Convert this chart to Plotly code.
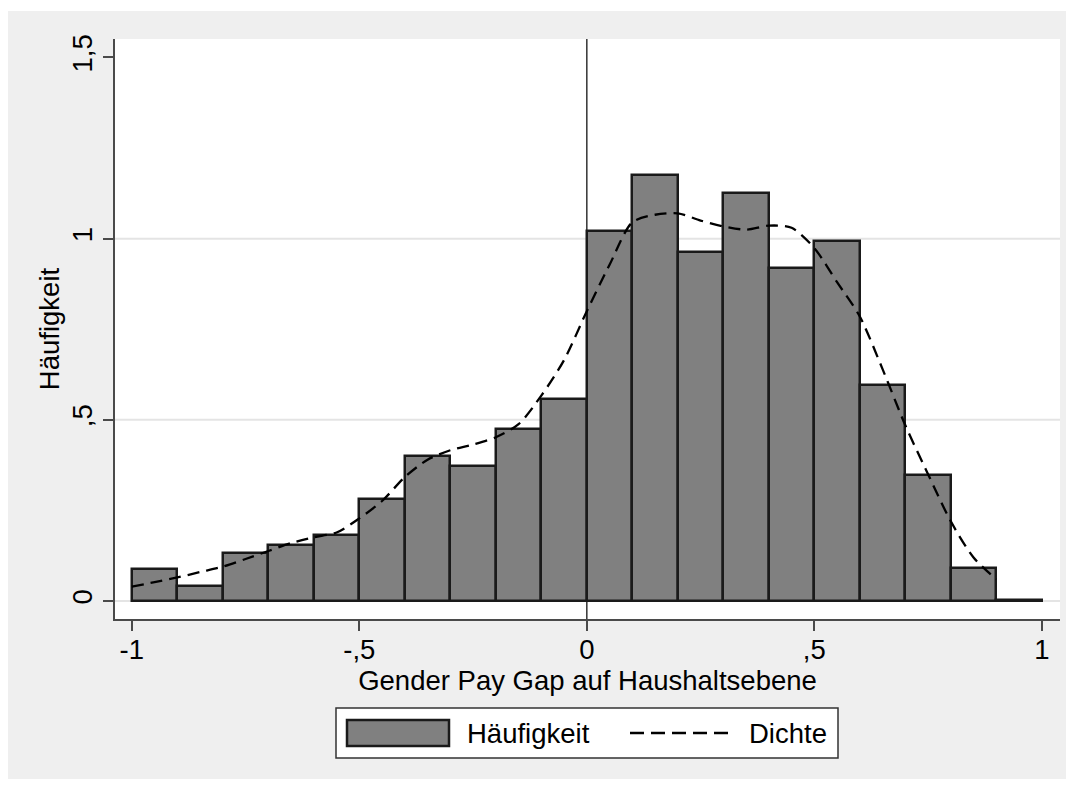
import plotly.graph_objects as go

# ---- data ----
bin_left = [-1.0, -0.9, -0.8, -0.7, -0.6, -0.5, -0.4, -0.3, -0.2, -0.1,
            0.0, 0.1, 0.2, 0.3, 0.4, 0.5, 0.6, 0.7, 0.8, 0.9]
bin_width = 0.1
freq = [0.088, 0.041, 0.133, 0.156, 0.183, 0.282, 0.400, 0.372, 0.476, 0.557,
        1.022, 1.176, 0.962, 1.125, 0.918, 0.994, 0.595, 0.347, 0.090, 0.003]

dens_x = [-1.0, -0.95, -0.9, -0.85, -0.8, -0.75, -0.7, -0.65, -0.6, -0.55,
          -0.5, -0.45, -0.4, -0.35, -0.3, -0.25, -0.2, -0.15, -0.1, -0.05,
          0.0, 0.05, 0.1, 0.15, 0.2, 0.25, 0.3, 0.35, 0.4, 0.45,
          0.5, 0.55, 0.6, 0.65, 0.7, 0.75, 0.8, 0.85, 0.9]
dens_y = [0.040, 0.052, 0.065, 0.080, 0.095, 0.116, 0.138, 0.160, 0.176, 0.189,
          0.228, 0.276, 0.342, 0.390, 0.416, 0.432, 0.452, 0.488, 0.567, 0.665,
          0.800, 0.928, 1.045, 1.066, 1.070, 1.050, 1.034, 1.025, 1.036, 1.030,
          0.974, 0.880, 0.785, 0.640, 0.485, 0.350, 0.220, 0.120, 0.060]

x_ticks = [-1, -0.5, 0, 0.5, 1]
x_labels = ["-1", "-,5", "0", ",5", "1"]
y_ticks = [0, 0.5, 1, 1.5]
y_labels = ["0", ",5", "1", "1,5"]
grid_vals = [0, 0.5, 1]

x_title = "Gender Pay Gap auf Haushaltsebene"
y_title = "Häufigkeit"
legend_names = ["Häufigkeit", "Dichte"]

# ---- layout geometry (page pixels; page body has an 8px margin all round) ----
OFF = 8
W, H = 1074 - 2 * OFF, 787 - 2 * OFF
L, R, T, B = 115 - OFF, 1060 - OFF, 39 - OFF, 619 - OFF
FONT = "Liberation Sans, Arial, sans-serif"
FS = 27.5
BAR_FILL = "#808080"
BAR_LINE = "#1a1a1a"
AXIS_COL = "#4a4a4a"
BG = "#efefef"


def px_x(p):
    return (p - OFF - L) / (R - L)


def px_y(p):
    return (B - (p - OFF)) / (B - T)


fig = go.Figure()

fig.add_trace(go.Bar(
    x=[b + bin_width / 2 for b in bin_left],
    y=freq,
    width=bin_width,
    marker=dict(color=BAR_FILL, line=dict(color=BAR_LINE, width=2.5)),
    name=legend_names[0],
    showlegend=False,
))

fig.add_trace(go.Scatter(
    x=dens_x, y=dens_y, mode="lines",
    line=dict(color="#000000", width=2.3, dash="12px,7px", shape="spline", smoothing=0.8),
    name=legend_names[1],
    showlegend=False,
))

shapes = []
# thin white strip at the very top of the page
shapes.append(dict(type="rect", xref="paper", yref="paper",
                   x0=px_x(0), x1=px_x(1074), y0=px_y(11), y1=px_y(0),
                   fillcolor="white", line=dict(width=0), layer="below"))
# horizontal grid lines
for g in grid_vals:
    shapes.append(dict(type="line", xref="x domain", yref="y",
                       x0=0, x1=1, y0=g, y1=g,
                       line=dict(color="#e4e4e4", width=2), layer="below"))
# vertical reference line at 0
shapes.append(dict(type="line", xref="x", yref="y domain",
                   x0=0, x1=0, y0=0, y1=1,
                   line=dict(color="#333333", width=1.5), layer="below"))

# custom legend
shapes.append(dict(type="rect", xref="paper", yref="paper",
                   x0=px_x(336), x1=px_x(838), y0=px_y(758), y1=px_y(708),
                   fillcolor="white", line=dict(color="#333333", width=1.5)))
shapes.append(dict(type="rect", xref="paper", yref="paper",
                   x0=px_x(347), x1=px_x(449), y0=px_y(746), y1=px_y(720),
                   fillcolor=BAR_FILL, line=dict(color=BAR_LINE, width=2.5)))
shapes.append(dict(type="line", xref="paper", yref="paper",
                   x0=px_x(630), x1=px_x(732), y0=px_y(733), y1=px_y(733),
                   line=dict(color="#000000", width=2.3, dash="14px,7px")))

annotations = [
    dict(xref="paper", yref="paper", x=px_x(465), y=px_y(733),
         text=legend_names[0], showarrow=False, xanchor="left", yanchor="middle",
         font=dict(family=FONT, size=FS, color="#000")),
    dict(xref="paper", yref="paper", x=px_x(747), y=px_y(733),
         text=legend_names[1], showarrow=False, xanchor="left", yanchor="middle",
         font=dict(family=FONT, size=FS, color="#000")),
]

fig.update_layout(
    width=W, height=H,
    margin=dict(l=L, r=W - R, t=T, b=H - B, pad=0),
    paper_bgcolor=BG, plot_bgcolor="white",
    font=dict(family=FONT, size=FS, color="#000"),
    bargap=0,
    shapes=shapes,
    annotations=annotations,
    showlegend=False,
    xaxis=dict(
        range=[-1.037, 1.04],
        tickmode="array", tickvals=x_ticks, ticktext=x_labels,
        ticks="outside", ticklen=10, tickwidth=1.5, tickcolor=AXIS_COL,
        ticklabelstandoff=-5,
        showgrid=False, zeroline=False,
        showline=True, linecolor=AXIS_COL, linewidth=1.5,
        title=dict(text=x_title, standoff=0, font=dict(size=FS)),
        tickfont=dict(size=FS),
    ),
    yaxis=dict(
        range=[-0.0496, 1.551],
        tickmode="array", tickvals=y_ticks, ticktext=y_labels,
        tickangle=-90,
        ticks="outside", ticklen=10, tickwidth=1.5, tickcolor=AXIS_COL,
        showgrid=False, zeroline=False,
        showline=True, linecolor=AXIS_COL, linewidth=1.5,
        title=dict(text=y_title, standoff=0, font=dict(size=FS)),
        tickfont=dict(size=FS),
    ),
)

fig.write_html("out.html")
